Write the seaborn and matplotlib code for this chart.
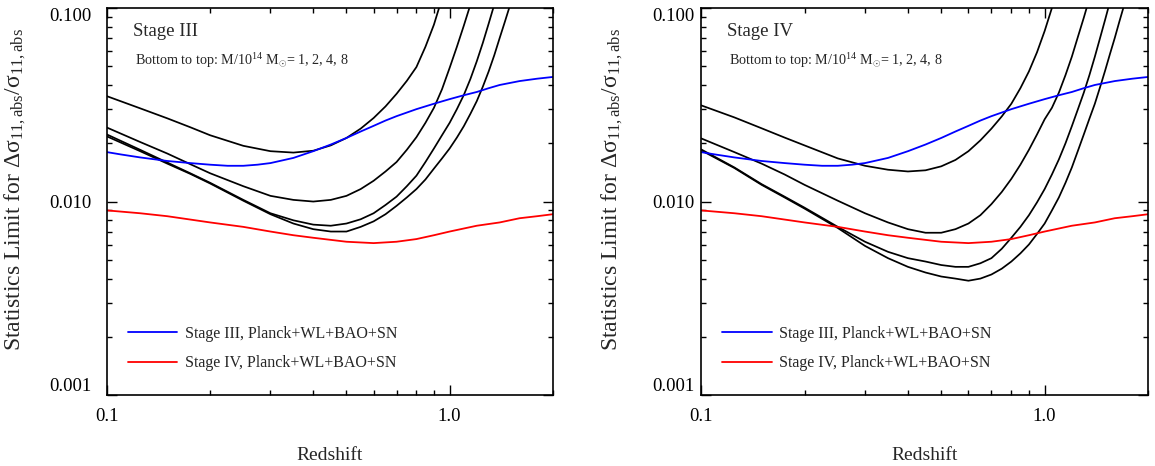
import matplotlib
matplotlib.use("Agg")
import matplotlib.pyplot as plt
from matplotlib.ticker import FixedLocator, FixedFormatter, NullFormatter
import seaborn as sns

# ---- Stage III cluster limits (M/1e14 Msun = 8, 4, 2, 1) ----
z3_m8 = [0.10, 0.125, 0.15, 0.175, 0.20, 0.25, 0.30, 0.35, 0.40, 0.45, 0.50, 0.55, 0.60, 0.65,
         0.70, 0.75, 0.80, 0.85, 0.90, 0.95, 1.00]
s3_m8 = [0.0350, 0.0303, 0.0269, 0.0242, 0.0220, 0.0194, 0.0182, 0.0179, 0.0183, 0.0195, 0.0213,
         0.0238, 0.0270, 0.0310, 0.0360, 0.0420, 0.0495, 0.0630, 0.0820, 0.112, 0.150]

z3_m4 = [0.10, 0.125, 0.15, 0.175, 0.20, 0.25, 0.30, 0.35, 0.40, 0.45, 0.50, 0.55, 0.60, 0.65,
         0.70, 0.75, 0.80, 0.85, 0.90, 0.95, 1.00, 1.05, 1.10, 1.15, 1.20]
s3_m4 = [0.0241, 0.0203, 0.0177, 0.0156, 0.0140, 0.0120, 0.0107, 0.0102, 0.0100, 0.0102, 0.0107,
         0.0116, 0.0128, 0.0143, 0.0160, 0.0185, 0.0215, 0.0255, 0.0305, 0.0380, 0.0490, 0.0630,
         0.0810, 0.104, 0.135]

z3_m2 = [0.10, 0.125, 0.15, 0.175, 0.20, 0.25, 0.30, 0.35, 0.40, 0.45, 0.50, 0.55, 0.60, 0.65,
         0.70, 0.75, 0.80, 0.85, 0.90, 0.95, 1.00, 1.05, 1.10, 1.15, 1.20, 1.25, 1.30, 1.35, 1.40]
s3_m2 = [0.0222, 0.0185, 0.0159, 0.0140, 0.0125, 0.0102, 0.0087, 0.0080, 0.0076, 0.0075, 0.0077,
         0.0081, 0.0087, 0.0096, 0.0106, 0.0120, 0.0136, 0.0160, 0.0188, 0.0220, 0.0255, 0.0300,
         0.0355, 0.0430, 0.0530, 0.0660, 0.0830, 0.104, 0.130]

z3_m1 = [0.10, 0.125, 0.15, 0.175, 0.20, 0.25, 0.30, 0.35, 0.40, 0.45, 0.50, 0.55, 0.60, 0.65,
         0.70, 0.75, 0.80, 0.85, 0.90, 0.95, 1.00, 1.05, 1.10, 1.15, 1.20, 1.25, 1.30, 1.35,
         1.40, 1.45, 1.50, 1.55]
s3_m1 = [0.0217, 0.0182, 0.0157, 0.0139, 0.0124, 0.0101, 0.0086, 0.0077, 0.0072, 0.0070, 0.0070,
         0.0074, 0.0079, 0.0086, 0.0095, 0.0105, 0.0116, 0.0130, 0.0148, 0.0167, 0.0188, 0.0214,
         0.0245, 0.0284, 0.0330, 0.0392, 0.0470, 0.0570, 0.0700, 0.0850, 0.103, 0.125]

# ---- Stage IV cluster limits ----
z4_m8 = [0.10, 0.125, 0.15, 0.175, 0.20, 0.25, 0.30, 0.35, 0.40, 0.45, 0.50, 0.55, 0.60, 0.65,
         0.70, 0.75, 0.80, 0.85, 0.90, 0.95, 1.00, 1.05, 1.10]
s4_m8 = [0.0314, 0.0272, 0.0239, 0.0214, 0.0195, 0.0167, 0.0153, 0.0146, 0.0143, 0.0145, 0.0152,
         0.0164, 0.0182, 0.0207, 0.0238, 0.0275, 0.0320, 0.0385, 0.0470, 0.0590, 0.0760, 0.100,
         0.132]

z4_m4 = [0.10, 0.125, 0.15, 0.175, 0.20, 0.25, 0.30, 0.35, 0.40, 0.45, 0.50, 0.55, 0.60, 0.65,
         0.70, 0.75, 0.80, 0.85, 0.90, 0.95, 1.00, 1.05, 1.10, 1.15, 1.20, 1.25, 1.30, 1.35, 1.40]
s4_m4 = [0.0212, 0.0180, 0.0157, 0.0138, 0.0122, 0.0101, 0.0087, 0.0078, 0.0072, 0.0069, 0.0069,
         0.0072, 0.0077, 0.0085, 0.0097, 0.0112, 0.0131, 0.0155, 0.0185, 0.0222, 0.0266, 0.0305,
         0.0365, 0.0450, 0.0560, 0.0710, 0.0890, 0.112, 0.142]

z4_m2 = [0.10, 0.125, 0.15, 0.175, 0.20, 0.25, 0.30, 0.35, 0.40, 0.45, 0.50, 0.55, 0.60, 0.65,
         0.70, 0.75, 0.80, 0.85, 0.90, 0.95, 1.00, 1.05, 1.10, 1.15, 1.20, 1.25, 1.30, 1.35,
         1.40, 1.45, 1.50, 1.55, 1.60]
s4_m2 = [0.0186, 0.0150, 0.0123, 0.0106, 0.0093, 0.0074, 0.0062, 0.0055, 0.0051, 0.0049, 0.0047,
         0.0046, 0.0046, 0.0048, 0.0051, 0.0057, 0.0065, 0.0074, 0.0085, 0.0099, 0.0116, 0.0138,
         0.0165, 0.0200, 0.0245, 0.0300, 0.0365, 0.0450, 0.0560, 0.0700, 0.0870, 0.108, 0.135]

z4_m1 = [0.10, 0.125, 0.15, 0.175, 0.20, 0.25, 0.30, 0.35, 0.40, 0.45, 0.50, 0.55, 0.60, 0.65,
         0.70, 0.75, 0.80, 0.85, 0.90, 0.95, 1.00, 1.05, 1.10, 1.15, 1.20, 1.25, 1.30, 1.35,
         1.40, 1.45, 1.50, 1.55, 1.60, 1.65, 1.70, 1.75]
s4_m1 = [0.0184, 0.0149, 0.0122, 0.0105, 0.0092, 0.0073, 0.0059, 0.0051, 0.0046, 0.0043, 0.0041,
         0.0040, 0.0039, 0.0040, 0.0042, 0.0045, 0.0049, 0.0054, 0.0060, 0.0068, 0.0077, 0.0090,
         0.0105, 0.0125, 0.0150, 0.0183, 0.0222, 0.0268, 0.0320, 0.0390, 0.0475, 0.0580, 0.0700,
         0.0850, 0.102, 0.122]

# ---- Planck+WL+BAO+SN forecasts ----
z_planck_s3 = [0.10, 0.11, 0.125, 0.15, 0.175, 0.20, 0.225, 0.25, 0.275, 0.30, 0.35, 0.40, 0.45,
               0.50, 0.55, 0.60, 0.65, 0.70, 0.80, 0.90, 1.00, 1.10, 1.20, 1.30, 1.40, 1.60,
               1.80, 2.00]
planck_s3 = [0.0180, 0.0175, 0.0169, 0.0162, 0.0158, 0.0155, 0.0153, 0.0153, 0.0155, 0.0158,
             0.0168, 0.0182, 0.0197, 0.0213, 0.0230, 0.0246, 0.0262, 0.0276, 0.0300, 0.0320,
             0.0338, 0.0354, 0.0368, 0.0385, 0.0400, 0.0419, 0.0431, 0.0440]

z_planck_s4 = [0.10, 0.125, 0.15, 0.20, 0.25, 0.30, 0.35, 0.40, 0.50, 0.60, 0.70, 0.80, 0.90,
               1.00, 1.20, 1.40, 1.60, 1.80, 2.00]
planck_s4 = [0.0090, 0.0087, 0.0084, 0.0078, 0.0074, 0.0070, 0.0067, 0.0065, 0.0062, 0.0061,
             0.0062, 0.0064, 0.0067, 0.0070, 0.0075, 0.0078, 0.0082, 0.0084, 0.0086]

panel_titles = ["Stage III", "Stage IV"]
mass_note = r"Bottom to top: M/10$^{14}$ M$_{\odot}$= 1, 2, 4, 8"
legend_labels = ["Stage III, Planck+WL+BAO+SN", "Stage IV, Planck+WL+BAO+SN"]
x_ticks = [0.1, 1.0]
x_ticklabels = ["0.1", "1.0"]
y_ticks = [0.001, 0.01, 0.1]
y_ticklabels = ["0.001", "0.010", "0.100"]
y_label = r"Statistics Limit for $\Delta\sigma_{11,\mathrm{abs}}/\sigma_{11,\mathrm{abs}}$"
x_label = "Redshift"

panels = [
    [(z3_m1, s3_m1), (z3_m2, s3_m2), (z3_m4, s3_m4), (z3_m8, s3_m8)],
    [(z4_m1, s4_m1), (z4_m2, s4_m2), (z4_m4, s4_m4), (z4_m8, s4_m8)],
]

sns.set_theme(style="ticks")
plt.rcParams["font.family"] = ["Liberation Serif", "DejaVu Serif"]
plt.rcParams["mathtext.fontset"] = "custom"
plt.rcParams["mathtext.rm"] = "Liberation Serif"
plt.rcParams["mathtext.it"] = "Liberation Serif"
plt.rcParams["mathtext.bf"] = "Liberation Serif:bold"
plt.rcParams["lines.solid_joinstyle"] = "round"

fig = plt.figure(figsize=(11.55, 4.66), dpi=100)
ax_rects = [[0.0926, 0.152, 0.386, 0.831], [0.607, 0.152, 0.387, 0.831]]
ytick_pads = [11, 5]
ylabel_x = [-0.177, -0.170]

minor_x = [0.2, 0.3, 0.4, 0.5, 0.6, 0.7, 0.8, 0.9, 2.0]
minor_y = [k * 10.0 ** e for e in (-3, -2) for k in range(2, 10)]

for i, rect in enumerate(ax_rects):
    ax = fig.add_axes(rect)
    for zz, ss in panels[i]:
        sns.lineplot(x=zz, y=ss, ax=ax, color="black", lw=1.25,
                     estimator=None, sort=False, legend=False)
    sns.lineplot(x=z_planck_s3, y=planck_s3, ax=ax, color="#0000ff", lw=1.3,
                 estimator=None, sort=False, label=legend_labels[0])
    sns.lineplot(x=z_planck_s4, y=planck_s4, ax=ax, color="#ff0000", lw=1.3,
                 estimator=None, sort=False, label=legend_labels[1])

    ax.set_xscale("log")
    ax.set_yscale("log")
    ax.set_xlim(0.1, 2.0)
    ax.set_ylim(0.001, 0.1)

    ax.xaxis.set_major_locator(FixedLocator(x_ticks))
    ax.xaxis.set_major_formatter(FixedFormatter(x_ticklabels))
    ax.xaxis.set_minor_locator(FixedLocator(minor_x))
    ax.xaxis.set_minor_formatter(NullFormatter())
    ax.yaxis.set_major_locator(FixedLocator(y_ticks))
    ax.yaxis.set_major_formatter(FixedFormatter(y_ticklabels))
    ax.yaxis.set_minor_locator(FixedLocator(minor_y))
    ax.yaxis.set_minor_formatter(NullFormatter())

    ax.tick_params(which="both", direction="in", top=True, right=True,
                   colors="black", labelsize=13.5, width=1.0)
    ax.tick_params(which="major", length=7)
    ax.tick_params(which="minor", length=3.5)
    ax.tick_params(axis="x", which="major", pad=9)
    ax.tick_params(axis="y", which="major", pad=ytick_pads[i])
    for sp in ax.spines.values():
        sp.set_linewidth(1.2)
        sp.set_color("black")

    ylabs = ax.get_yticklabels()
    ylabs[0].set_va("bottom")
    ylabs[-1].set_va("top")

    ax.set_ylabel(y_label, fontsize=17)
    ax.yaxis.set_label_coords(ylabel_x[i], 0.53)
    ax.set_xlabel(x_label, fontsize=14)
    ax.xaxis.label.set_va("center")
    ax.xaxis.set_label_coords(0.5, -0.155)

    ax.text(0.058, 0.938, panel_titles[i], transform=ax.transAxes,
            fontsize=13.5, ha="left", va="center")
    ax.text(0.062, 0.863, mass_note, transform=ax.transAxes,
            fontsize=10.2, ha="left", va="center")

    ax.legend(loc="lower left", bbox_to_anchor=(0.047, 0.062), frameon=False,
              fontsize=11.5, handlelength=3.1, handletextpad=0.45,
              labelspacing=0.85, borderpad=0, borderaxespad=0)

fig.savefig("out.png", dpi=100)
